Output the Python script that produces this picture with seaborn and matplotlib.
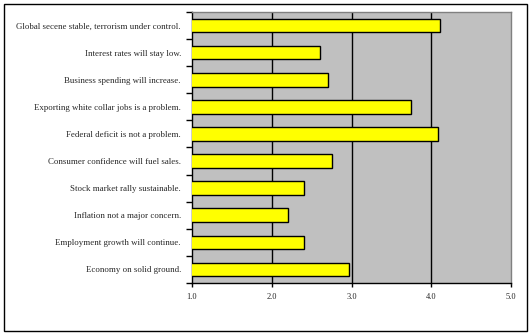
import matplotlib
matplotlib.use("Agg")
import matplotlib.pyplot as plt
import seaborn as sns
import pandas as pd
import numpy as np
from matplotlib.patches import Rectangle

statements = [
    "Global secene stable, terrorism under control.",
    "Interest rates will stay low.",
    "Business spending will increase.",
    "Exporting white collar jobs is a problem.",
    "Federal deficit is not a problem.",
    "Consumer confidence will fuel sales.",
    "Stock market rally sustainable.",
    "Inflation not a major concern.",
    "Employment growth will continue.",
    "Economy on solid ground.",
]
scores = [4.11, 2.60, 2.70, 3.75, 4.08, 2.75, 2.40, 2.20, 2.40, 2.97]
x_ticks = [1.0, 2.0, 3.0, 4.0, 5.0]

df = pd.DataFrame({"statement": statements, "score": scores})

sns.set_theme(style="white")
plt.rcParams["font.family"] = ["Liberation Serif", "DejaVu Serif"]

fig = plt.figure(figsize=(5.32, 3.33), dpi=100)
ax = fig.add_axes([192 / 532, 1 - 283 / 333, (511 - 192) / 532, (283 - 12) / 333])

ax.set_facecolor("#C0C0C0")
sns.barplot(data=df, x="score", y="statement", orient="h", color="#FFFF00",
            saturation=1, edgecolor="black", linewidth=1.0, width=0.5, ax=ax, zorder=3)

ax.set_xlim(1.0, 5.0)
ax.set_ylim(len(statements) - 0.5, -0.5)
ax.set_xticks(x_ticks)
ax.set_xticklabels([f"{v:.1f}" for v in x_ticks], fontsize=6)
for v in x_ticks[1:-1]:
    ax.axvline(v, color="black", linewidth=1.0, zorder=1)

ax.set_yticks(range(len(statements)))
ax.set_yticklabels(statements, fontsize=6.4)
ax.set_yticks(np.arange(-0.5, len(statements), 1.0), minor=True)
ax.tick_params(axis="y", which="major", length=0, pad=8)
ax.tick_params(axis="y", which="minor", length=4, width=1, color="black", direction="out", left=True)
ax.tick_params(axis="x", which="major", length=3, width=1, color="black", direction="out", bottom=True, pad=4)

ax.set_xlabel("")
ax.set_ylabel("")
for side in ["top", "right"]:
    ax.spines[side].set_color("#808080")
    ax.spines[side].set_linewidth(1.0)
for side in ["left", "bottom"]:
    ax.spines[side].set_color("black")
    ax.spines[side].set_linewidth(1.0)

fig.patches.append(Rectangle((4 / 532, 1 - 331 / 333), (527 - 4) / 532, (331 - 4) / 333,
                             transform=fig.transFigure, fill=False, edgecolor="black",
                             linewidth=1.0))

fig.savefig("out.png", dpi=100)
